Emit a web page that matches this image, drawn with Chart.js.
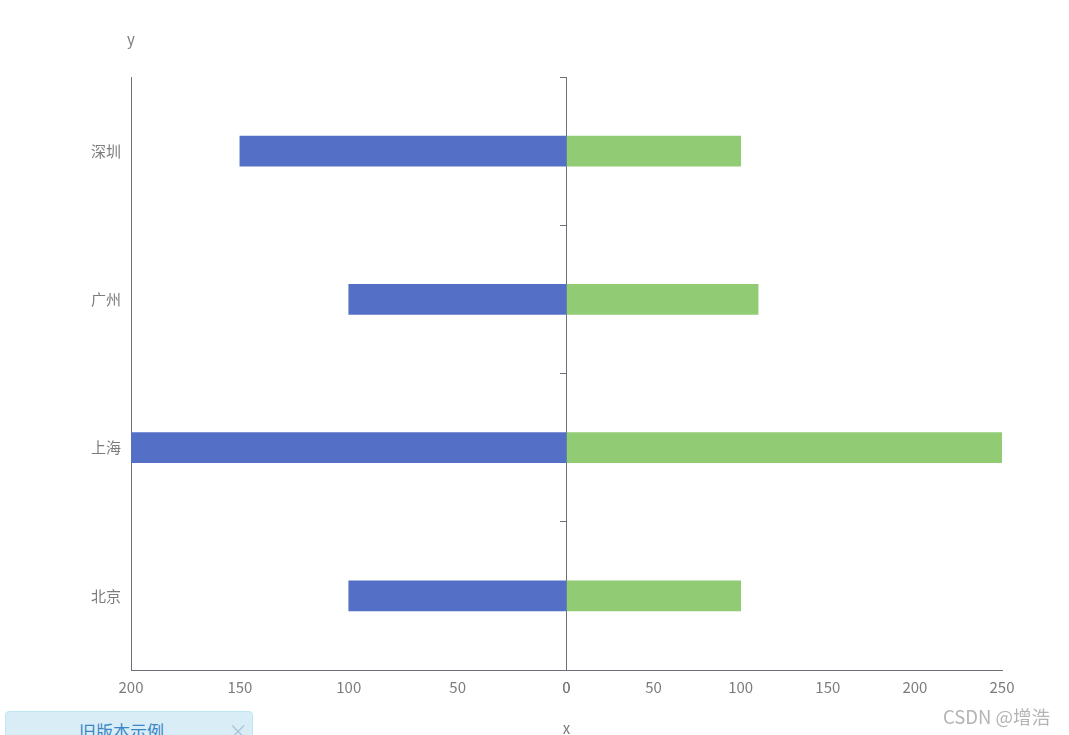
<!DOCTYPE html>
<html>
<head>
<meta charset="utf-8">
<script src="https://cdn.jsdelivr.net/npm/chart.js@4"></script>
<style>
  html, body { margin: 0; padding: 0; background: #fff; }
  #wrap { position: relative; width: 1069px; height: 735px; overflow: hidden; }
  #grafico { position: absolute; left: 0; top: 0; }
  .aviso {
    position: absolute; left: 5px; top: 711px; width: 246px; height: 40px;
    background: #d9edf7; border: 1px solid #bce8f1; border-radius: 4px;
    font-family: "Noto Sans CJK SC", sans-serif; font-size: 17px; color: #3a87c8;
  }
  .aviso span { position: absolute; left: 73px; top: 6px; }
  .aviso b { position: absolute; left: 222px; top: 4px; font-weight: normal; color: #a9c8dc; font-size: 20px; }
  .marca {
    position: absolute; left: 943px; top: 703px;
    font-family: "Noto Sans CJK SC", sans-serif; font-size: 18.5px; color: #b4b4b4;
  }
</style>
</head>
<body>
<div id="wrap">
  <canvas id="grafico" width="1069" height="735"></canvas>
  <div class="aviso"><span>旧版本示例</span><b>×</b></div>
  <div class="marca">CSDN @增浩</div>
</div>
<script>
// dados do grafico
const cidades = ['北京', '上海', '广州', '深圳'];
const valoresEsquerda = [100, 200, 100, 150]; // barras azuis (eixo invertido)
const valoresDireita = [100, 250, 110, 100];  // barras verdes
const ticksEsquerda = [200, 150, 100, 50, 0];
const ticksDireita = [0, 50, 100, 150, 200, 250];

const corEixo = '#6E7079';
const corTexto = '#7c7c7c';
const fonte = { family: '"Noto Sans CJK SC", sans-serif', size: 15 };

// nomes dos eixos (y em cima, x embaixo)
const nomesEixos = {
  id: 'nomesEixos',
  afterDraw(chart) {
    const ctx = chart.ctx;
    const area = chart.chartArea;
    ctx.save();
    ctx.fillStyle = corTexto;
    ctx.font = '15px "Noto Sans CJK SC", sans-serif';
    ctx.textAlign = 'center';
    ctx.textBaseline = 'middle';
    ctx.fillText('y', area.left, area.top - 38);
    ctx.fillText('x', chart.scales.xR.getPixelForValue(0), 728);
    ctx.restore();
  }
};

const ctxGrafico = document.getElementById('grafico').getContext('2d');
const grafico = new Chart(ctxGrafico, {
  type: 'bar',
  data: {
    labels: cidades,
    datasets: [
      {
        data: valoresEsquerda,
        xAxisID: 'xL',
        yAxisID: 'y',
        backgroundColor: '#5470C6',
        barThickness: 30,
        grouped: false
      },
      {
        data: valoresDireita,
        xAxisID: 'xR',
        yAxisID: 'y',
        backgroundColor: '#91CC75',
        barThickness: 30,
        grouped: false
      }
    ]
  },
  options: {
    indexAxis: 'y',
    responsive: false,
    animation: false,
    layout: { padding: { top: 77, right: 67, bottom: 0, left: 0 } },
    plugins: { legend: { display: false }, tooltip: { enabled: false } },
    scales: {
      y: {
        type: 'category',
        reverse: true,
        offset: true,
        grid: { display: false, drawTicks: false, offset: true },
        border: { display: true, color: corEixo, width: 1 },
        ticks: { color: corTexto, font: fonte, padding: 10 },
        afterFit(escala) { escala.width = 131; }
      },
      yc: {
        type: 'category',
        axis: 'y',
        reverse: true,
        offset: true,
        position: { xR: 0 },
        z: 1,
        grid: { display: true, drawOnChartArea: false, drawTicks: true, tickLength: 6, offset: true, color: corEixo },
        border: { display: true, color: corEixo, width: 1 },
        ticks: { display: false }
      },
      xL: {
        type: 'linear',
        position: 'bottom',
        stack: 'baixo',
        stackWeight: 1,
        reverse: true,
        min: 0,
        max: 200,
        afterBuildTicks(escala) { escala.ticks = ticksEsquerda.map(v => ({ value: v })); },
        grid: { display: false, drawTicks: false },
        border: { display: true, color: corEixo, width: 1 },
        ticks: { color: corTexto, font: fonte, padding: 8, maxRotation: 0, autoSkip: false },
        afterFit(escala) { escala.height = 65; }
      },
      xR: {
        type: 'linear',
        position: 'bottom',
        stack: 'baixo',
        stackWeight: 1,
        min: 0,
        max: 250,
        afterBuildTicks(escala) { escala.ticks = ticksDireita.map(v => ({ value: v })); },
        grid: { display: false, drawTicks: false },
        border: { display: true, color: corEixo, width: 1 },
        ticks: { color: corTexto, font: fonte, padding: 8, maxRotation: 0, autoSkip: false },
        afterFit(escala) { escala.height = 65; }
      }
    }
  },
  plugins: [nomesEixos]
});
</script>
</body>
</html>
